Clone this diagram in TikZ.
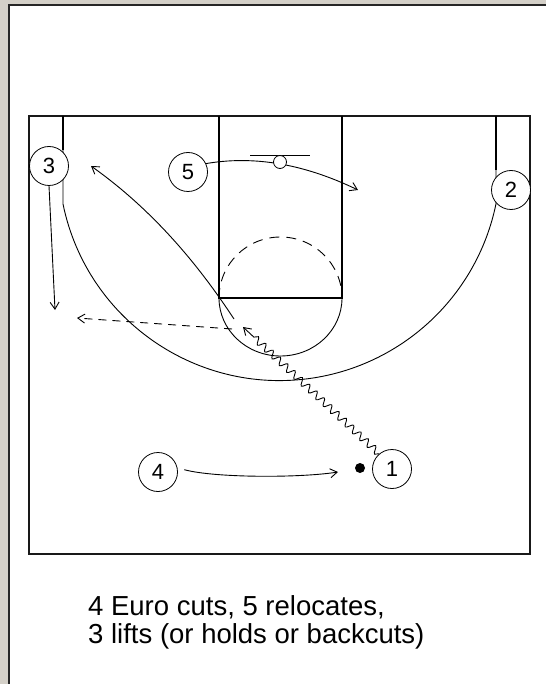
\documentclass[tikz,border=0pt]{standalone}
\usepackage{fontspec}
\setmainfont{Liberation Sans}
\usetikzlibrary{arrows.meta,decorations.pathmorphing}

\definecolor{panelgray}{HTML}{D4D0C8}

\tikzset{
  courtline/.style={line width=1.6pt, black},
  thinline/.style={line width=0.9pt, black},
  player/.style={circle, draw=black, fill=white, line width=0.8pt,
    minimum size=39pt, inner sep=0pt, font=\fontsize{22}{22}\selectfont},
  ballnode/.style={circle, fill=black, minimum size=10pt, inner sep=0pt},
  rimnode/.style={circle, draw=black, fill=white, line width=0.8pt,
    minimum size=13pt, inner sep=0pt},
  tip/.style={-{Straight Barb[length=7pt,width=9pt,line width=0.9pt]}},
  move/.style={thinline, tip},
  passline/.style={thinline, tip, dash pattern=on 8pt off 6pt},
  dribble/.style={thinline, tip, decorate,
    decoration={snake, amplitude=3.5pt, segment length=10pt, post length=14pt}},
  caption/.style={anchor=base west, inner sep=0pt, font=\fontsize{27.5}{29}\selectfont}
}

\begin{document}
\begin{tikzpicture}[x=1pt, y=-1pt]
  \useasboundingbox (0,0) rectangle (546,684);

  % window frame and white sheet
  \fill[panelgray] (0,0) rectangle (546,684);
  \fill[white] (9,5) rectangle (546,684);
  \draw[line width=2pt, black!85] (9,684) -- (9,5) -- (546,5);

  % half court
  \draw[line width=2pt, black!90] (29,116) rectangle (530,554);
  % lane and free-throw line
  \draw[courtline] (219,116) -- (219,298) -- (342,298) -- (342,116);
  % three-point line
  \draw[thinline] (63,116) -- (63,204)
    arc[start angle=168.4, end angle=11.6, radius=221] -- (496,116);
  \draw[courtline] (63,116) -- (63,150);
  \draw[courtline] (496,116) -- (496,170);
  % free-throw circle
  \draw[thinline] (219,298) arc[start angle=180, end angle=0, x radius=61.5, y radius=58];
  \draw[thinline, dash pattern=on 10pt off 7pt]
    (219,298) arc[start angle=180, end angle=360, x radius=61.5, y radius=61];
  % backboard
  \draw[thinline] (250,155) -- (310,155);

  % players and ball
  \node[player] (p3) at (49,166) {3};
  \node[player] (p5) at (188,172) {5};
  \node[player] (p2) at (511,190) {2};
  \node[player] (p4) at (158,472) {4};
  \node[player] (p1) at (392,469) {1};
  \node[ballnode] (ball) at (360,468) {};

  % free ends of the movements
  \coordinate (lift3) at (55,310);
  \coordinate (cut5) at (358,190);
  \coordinate (euro4) at (338,472);
  \coordinate (drive1) at (243,327);
  \coordinate (passFrom) at (232,329);
  \coordinate (passTo) at (77,318);
  \coordinate (backFrom) at (234,319);
  \coordinate (backTo) at (91,166);

  % 3 lifts
  \draw[move] (p3.south) -- (lift3);
  % 5 relocates through the rim
  \draw[move] (p5.25) .. controls (250,156) and (300,162) .. (cut5);
  \node[rimnode] (rim) at (280,162) {};
  % 4 Euro cut
  \draw[move, shorten <=7pt] (p4.12) .. controls (215,478) and (300,478) .. (euro4);
  % 1 dribbles to the elbow
  \draw[dribble] (p1.130) -- (drive1);
  % pass to the corner
  \draw[passline] (passFrom) -- (passTo);
  % cut to the wing
  \draw[move] (backFrom) .. controls (205,275) and (160,215) .. (backTo);

  % caption
  \node[caption] (cap1) at (88,615) {4 Euro cuts, 5 relocates,};
  \node[caption] (cap2) at (88,643) {3 lifts (or holds or backcuts)};
\end{tikzpicture}
\end{document}
